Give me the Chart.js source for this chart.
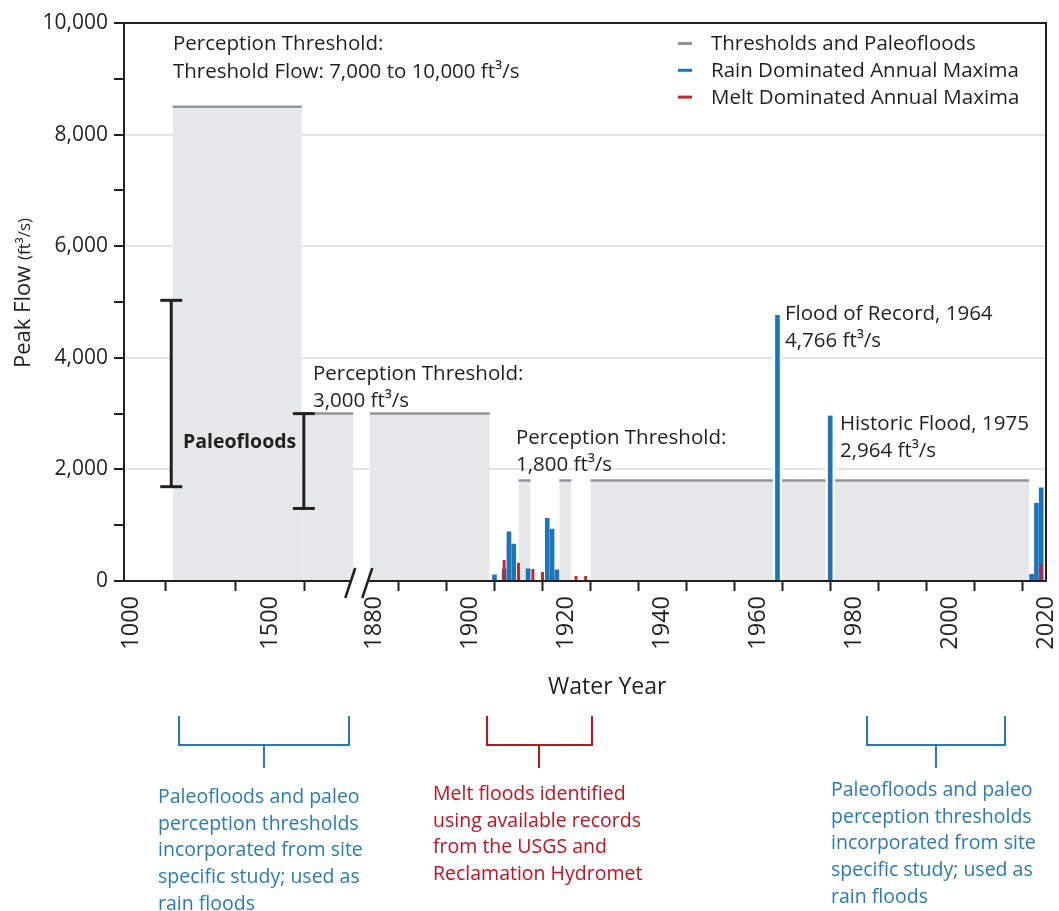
<!DOCTYPE html>
<html>
<head>
<meta charset="utf-8">
<script src="https://cdn.jsdelivr.net/npm/chart.js@4.4.0/dist/chart.umd.min.js"></script>
<style>
  html, body { margin: 0; padding: 0; background: #fff; }
  #wrap { position: relative; width: 1059px; height: 911px; }
</style>
</head>
<body>
<div id="wrap"><canvas id="floodChart"></canvas></div>
<script>
// annual maxima (water year, ft3/s)
const rainYears = [1905, 1907, 1908, 1909, 1912, 1916, 1917, 1918, 1964, 1975, 2017, 2018, 2019];
const rainFlow  = [110, 220, 880, 660, 220, 1125, 930, 200, 4766, 2964, 120, 1390, 1670];
const meltYears = [1907, 1910, 1913, 1915, 1922, 1924, 2019];
const meltFlow  = [370, 320, 210, 155, 85, 85, 300];

// perception thresholds (grey boxes)
const thresholdAxis  = ['xL', 'xL', 'xR', 'xR', 'xR', 'xR'];
const thresholdStart = [1150, 1615, 1879, 1910, 1918.5, 1925];
const thresholdEnd   = [1615, 1800, 1904, 1912.5, 1921, 2016.5];
const thresholdFlow  = [8500, 3000, 3000, 1800, 1800, 1800];

// paleoflood ranges
const paleoYears = [1145, 1622];
const paleoLow   = [1690, 1300];
const paleoHigh  = [5030, 3000];

// ticks
const leftTicks   = [1000, 1250, 1500];
const leftLabels  = [1000, 1500];
const rightTicks  = [1880, 1890, 1900, 1910, 1920, 1930, 1940, 1950, 1960, 1970, 1980, 1990, 2000, 2010, 2020];
const rightLabels = [1880, 1900, 1920, 1940, 1960, 1980, 2000, 2020];
const yTicks  = [0, 1000, 2000, 3000, 4000, 5000, 6000, 7000, 8000, 9000, 10000];
const yLabels = [0, 2000, 4000, 6000, 8000, 10000];

const FONT = '"Open Sans", sans-serif';
const INK = '#231f20';
const GREY_FILL = '#e6e7e8';
const GREY_LINE = '#939598';
const BLUE = '#1c75bc';
const RED = '#c1272d';
const BLUE_TXT = '#2a7ab9';
const RED_TXT = '#c1121f';

function pts(years, flows, keep) {
  const out = [];
  years.forEach((yr, i) => { if (keep(yr, flows[i])) out.push({ x: yr, y: flows[i] }); });
  return out;
}

const datasets = [];

datasets.push({
  type: 'bar', label: 'Melt Dominated Annual Maxima', xAxisID: 'xR', yAxisID: 'y',
  data: pts(meltYears, meltFlow, () => true),
  backgroundColor: RED, barThickness: 2.3, grouped: false, order: 0
});
datasets.push({
  type: 'bar', label: 'Rain Dominated Annual Maxima', xAxisID: 'xR', yAxisID: 'y',
  data: pts(rainYears, rainFlow, (yr, f) => f < 2500),
  backgroundColor: BLUE, barThickness: 4, grouped: false, order: 1
});
// the two big floods carry a white edge over the grey box
datasets.push({
  type: 'bar', label: 'Rain Dominated Annual Maxima', xAxisID: 'xR', yAxisID: 'y',
  data: pts(rainYears, rainFlow, (yr, f) => f >= 2500),
  backgroundColor: BLUE, borderColor: '#fff',
  borderWidth: { left: 2.5, right: 2.5, top: 0, bottom: 0 }, borderSkipped: false,
  barThickness: 9, grouped: false, order: 2
});

thresholdFlow.forEach((f, i) => {
  datasets.push({
    type: 'line', label: 'Thresholds and Paleofloods', xAxisID: thresholdAxis[i], yAxisID: 'y',
    data: [{ x: thresholdStart[i], y: f }, { x: thresholdEnd[i], y: f }],
    borderColor: GREY_LINE, borderWidth: 2.5, backgroundColor: GREY_FILL,
    fill: 'origin', pointRadius: 0, tension: 0, order: 10
  });
});

function txt(ctx, s, x, y, size, color, weight) {
  ctx.font = (weight || 'normal') + ' ' + size + 'px ' + FONT;
  ctx.fillStyle = color || INK;
  ctx.fillText(s, x, y);
}

function line(ctx, x1, y1, x2, y2, color, w) {
  ctx.strokeStyle = color;
  ctx.lineWidth = w;
  ctx.beginPath();
  ctx.moveTo(x1, y1);
  ctx.lineTo(x2, y2);
  ctx.stroke();
}

const extras = {
  id: 'extras',
  afterDraw(chart) {
    const ctx = chart.ctx;
    const a = chart.chartArea;
    const xL = chart.scales.xL, yS = chart.scales.y;
    ctx.save();
    ctx.textAlign = 'left';
    ctx.textBaseline = 'alphabetic';

    // frame: the grey fills sit over the axis line, so draw it again
    line(ctx, a.left - 1, a.bottom, a.right + 1, a.bottom, INK, 2);
    line(ctx, a.left - 1, a.top, a.right + 1, a.top, INK, 2);
    line(ctx, a.right, a.top, a.right, a.bottom, INK, 2);

    // paleoflood ranges
    paleoYears.forEach((yr, i) => {
      const x = xL.getPixelForValue(yr);
      const y1 = yS.getPixelForValue(paleoHigh[i]);
      const y2 = yS.getPixelForValue(paleoLow[i]);
      line(ctx, x, y1, x, y2, INK, 3);
      line(ctx, x - 11, y1, x + 11, y1, INK, 3);
      line(ctx, x - 11, y2, x + 11, y2, INK, 3);
    });
    txt(ctx, 'Paleofloods', 183, 448, 19.5, INK, 'bold');

    // axis break
    const bx = xL.right, by = a.bottom;
    ctx.fillStyle = '#fff';
    ctx.beginPath();
    ctx.moveTo(bx - 14, by + 16); ctx.lineTo(bx - 4, by - 14);
    ctx.lineTo(bx + 13, by - 14); ctx.lineTo(bx + 3, by + 16);
    ctx.closePath(); ctx.fill();
    line(ctx, bx - 15, by + 17, bx - 5, by - 13, INK, 2.5);
    line(ctx, bx + 2, by + 17, bx + 12, by - 13, INK, 2.5);

    // threshold / flood notes
    const fs = 20.5;
    txt(ctx, 'Perception Threshold:', 173, 50, fs);
    txt(ctx, 'Threshold Flow: 7,000 to 10,000 ft\u00b3/s', 173, 78, fs);
    txt(ctx, 'Perception Threshold:', 313, 380, fs);
    txt(ctx, '3,000 ft\u00b3/s', 313, 407, fs);
    txt(ctx, 'Perception Threshold:', 516, 444, fs);
    txt(ctx, '1,800 ft\u00b3/s', 516, 471, fs);
    txt(ctx, 'Flood of Record, 1964', 785, 320, fs);
    txt(ctx, '4,766 ft\u00b3/s', 785, 347, fs);
    txt(ctx, 'Historic Flood, 1975', 840, 430, fs);
    txt(ctx, '2,964 ft\u00b3/s', 840, 457, fs);

    // legend
    const leg = [['Thresholds and Paleofloods', GREY_LINE], ['Rain Dominated Annual Maxima', BLUE], ['Melt Dominated Annual Maxima', RED]];
    leg.forEach((it, i) => {
      const yy = 43.5 + i * 26.8;
      line(ctx, 678, yy, 692, yy, it[1], 3);
      txt(ctx, it[0], 711, 50 + i * 26.8, fs);
    });

    // axis titles
    txt(ctx, 'Water Year', 548, 694, 23);
    ctx.save();
    ctx.translate(30, 368);
    ctx.rotate(-Math.PI / 2);
    txt(ctx, 'Peak Flow ', 0, 0, 22);
    const w = ctx.measureText('Peak Flow ').width;
    txt(ctx, '(ft\u00b3/s)', w, 0, 17);
    ctx.restore();

    // brackets below the axis
    const brackets = [[179, 349, 264, BLUE_TXT], [487, 592, 539, RED_TXT], [867, 1005, 936, BLUE_TXT]];
    brackets.forEach(b => {
      ctx.strokeStyle = b[3];
      ctx.lineWidth = 2;
      ctx.beginPath();
      ctx.moveTo(b[0], 716); ctx.lineTo(b[0], 745); ctx.lineTo(b[1], 745); ctx.lineTo(b[1], 716);
      ctx.moveTo(b[2], 745); ctx.lineTo(b[2], 768);
      ctx.stroke();
    });
    const paleoNote = ['Paleofloods and paleo', 'perception thresholds', 'incorporated from site', 'specific study; used as', 'rain floods'];
    const meltNote = ['Melt floods identified', 'using available records', 'from the USGS and', 'Reclamation Hydromet'];
    paleoNote.forEach((s, i) => txt(ctx, s, 158, 803 + i * 26.7, 19.5, BLUE_TXT));
    meltNote.forEach((s, i) => txt(ctx, s, 433, 800 + i * 26.7, 19.5, RED_TXT));
    paleoNote.forEach((s, i) => txt(ctx, s, 831, 796 + i * 26.7, 19.5, BLUE_TXT));

    ctx.restore();
  }
};

function xAxis(min, max, weight, ticks, labels) {
  return {
    type: 'linear', position: 'bottom', stack: 'year', stackWeight: weight,
    min: min, max: max, offset: false,
    afterBuildTicks: s => { s.ticks = ticks.map(v => ({ value: v })); },
    afterFit: s => { s.height = 330; s.paddingLeft = 0; s.paddingRight = 0; },
    ticks: {
      autoSkip: false, minRotation: 90, maxRotation: 90, padding: 5,
      color: INK, font: { family: FONT, size: 23.5 },
      callback: v => labels.includes(v) ? String(v) : ''
    },
    grid: { drawOnChartArea: false, tickLength: 10, tickWidth: 2, tickColor: INK },
    border: { color: INK, width: 2 }
  };
}

new Chart(document.getElementById('floodChart'), {
  type: 'bar',
  data: { datasets: datasets },
  options: {
    responsive: true,
    maintainAspectRatio: false,
    animation: false,
    events: [],
    layout: { padding: { top: 23, right: 13, left: 0, bottom: 0 } },
    plugins: { legend: { display: false }, tooltip: { enabled: false } },
    scales: {
      xL: xAxis(975, 1825, 236, leftTicks, leftLabels),
      xR: xAxis(1877, 2020, 685, rightTicks, rightLabels),
      y: {
        type: 'linear', position: 'left', min: 0, max: 10000,
        afterBuildTicks: s => { s.ticks = yTicks.map(v => ({ value: v })); },
        afterFit: s => { s.width = 124; s.paddingTop = 0; s.paddingBottom = 0; },
        ticks: {
          padding: 6, color: INK, font: { family: FONT, size: 21 },
          callback: v => yLabels.includes(v) ? v.toLocaleString('en-US') : ''
        },
        grid: {
          color: c => (c.tick && c.tick.value > 0 && c.tick.value < 10000 && yLabels.includes(c.tick.value)) ? '#e4e4e4' : 'rgba(0,0,0,0)',
          lineWidth: 2, tickLength: 10, tickWidth: 2, tickColor: INK
        },
        border: { color: INK, width: 2 }
      }
    }
  },
  plugins: [extras]
});
</script>
</body>
</html>
